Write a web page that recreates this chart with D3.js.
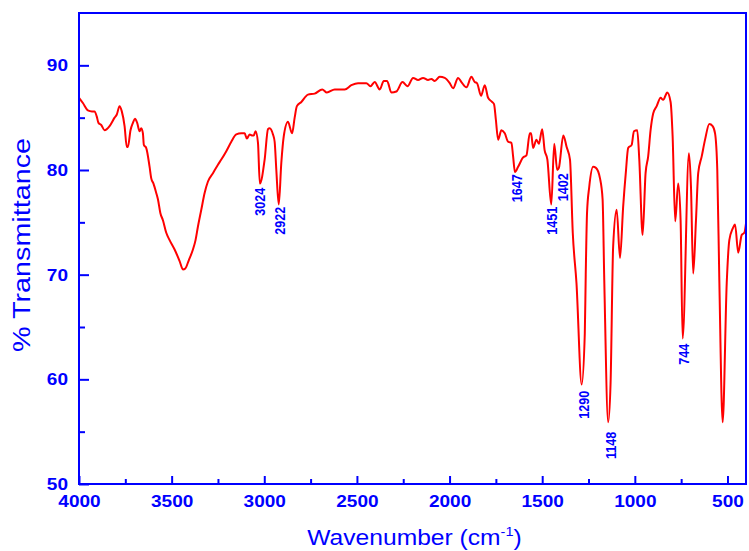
<!DOCTYPE html>
<html>
<head>
<meta charset="utf-8">
<script src="https://cdn.jsdelivr.net/npm/d3@7"></script>
<style>
  html, body { margin: 0; padding: 0; background: #fff; }
  svg { display: block; font-family: "Liberation Sans", Arial, sans-serif; }
</style>
</head>
<body>
<svg id="chart" width="749" height="551"></svg>
<script>
const wavenumbers = [4000,3979,3952,3930,3916,3904,3895,3880,3862,3835,3808,3796,3781,3769,3754,3742,3736,3722,3709,3698,3686,3673,3664,3655,3650,3637,3619,3610,3598,3583,3574,3561,3547,3529,3511,3484,3457,3439,3426,3407,3385,3371,3358,3340,3322,3304,3277,3250,3232,3205,3178,3151,3124,3106,3094,3079,3067,3057,3047,3034,3024,2998,2980,2971,2953,2944,2935,2922,2908,2895,2872,2850,2836,2824,2800,2764,2728,2687,2662,2620,2566,2530,2494,2449,2427,2404,2377,2355,2337,2314,2287,2254,2227,2197,2170,2143,2116,2098,2080,2053,2026,1999,1981,1954,1936,1909,1882,1864,1852,1830,1810,1792,1770,1760,1750,1738,1720,1702,1684,1666,1657,1647,1630,1603,1585,1567,1560,1549,1531,1518,1500,1487,1472,1451,1435,1419,1410,1386,1368,1350,1335,1315,1287,1270,1265,1258,1246,1225,1210,1188,1174,1165,1144,1131,1117,1098,1080,1063,1048,1036,1017,1005,987,976,958,942,928,915,901,882,861,847,825,807,796,782,766,753,742,708,697,685,670,658,639,621,598,580,567,555,544,526,504,490,472,459,442,423,409,400];
// % Transmittance at each wavenumber
const transmittance = [86.9,86.4,85.7,85.6,85.6,85.1,84.5,84.3,83.8,84.2,85.0,85.3,86.1,85.6,84.2,82.2,82.2,83.8,84.5,84.9,84.5,83.7,84.0,83.5,82.4,82.1,80.3,79.2,78.7,77.8,77.2,75.9,75.2,74.0,73.3,72.4,71.3,70.5,70.6,71.4,72.4,73.3,74.6,76.2,77.8,78.9,79.7,80.5,81.0,81.8,82.7,83.4,83.5,83.5,83.0,83.4,83.3,83.3,83.7,82.6,78.7,81.0,83.9,84.0,83.4,82.7,80.0,76.7,80.7,83.2,84.6,83.5,85.0,86.1,86.5,87.2,87.3,87.7,87.4,87.7,87.7,88.1,88.3,88.3,88.0,88.4,87.7,88.5,88.5,87.4,87.5,88.4,88.0,88.8,88.6,88.8,88.6,88.7,88.5,88.9,88.8,88.3,87.8,88.8,88.4,87.9,88.9,88.4,88.3,87.1,88.1,86.9,86.5,86.3,84.8,82.9,83.8,83.5,82.7,82.6,81.3,79.8,80.3,81.2,81.4,83.5,83.5,82.1,82.9,82.5,83.9,81.9,81.0,76.7,82.5,80.0,80.2,83.3,82.2,81.0,74.0,69.2,59.5,64.4,70.0,75.9,78.4,80.3,80.2,79.2,77.2,69.5,55.9,59.6,72.7,76.2,71.6,76.5,79.9,82.1,82.4,83.7,83.8,81.0,73.8,79.7,81.3,83.8,85.4,86.1,86.9,86.7,87.4,86.5,83.2,75.1,78.7,75.2,63.9,81.6,78.4,70.1,75.2,79.7,81.3,82.9,84.4,84.2,83.5,80.0,69.5,55.9,69.2,73.3,74.4,74.8,72.1,73.8,74.0,74.9];

// Peak annotations: text, wavenumber of label centre, transmittance at label top
const peakLabels = ["3024","2922","1647","1451","1402","1290","1148","744"];
const peakLabelWn = [3021,2913,1639,1446,1387,1273,1129,735];
const peakLabelT = [78.3,76.5,79.6,76.5,79.7,58.9,55.0,63.4];

const xMajorTicks = [4000,3500,3000,2500,2000,1500,1000,500];
const xMinorTicks = [3750,3250,2750,2250,1750,1250,750];
const yMajorTicks = [50,60,70,80,90];
const yMinorTicks = [55,65,75,85];

const blue = "#0000ff";
const red = "#ff0000";
const stretch = 1.12; // reference text is drawn horizontally widened

const margin = {top: 13, right: 3, bottom: 67, left: 79};
const W = 749, H = 551;
const iw = W - margin.left - margin.right;
const ih = H - margin.top - margin.bottom;

const svg = d3.select("#chart");
const g = svg.append("g").attr("transform", `translate(${margin.left},${margin.top})`);

const x = d3.scaleLinear().domain([4000, 400]).range([0, iw]);
const y = d3.scaleLinear().domain([50, 95]).range([ih, 0]);

// Spectrum line
const pts = wavenumbers.map((w, i) => [w, transmittance[i]]);
const line = d3.line().x(d => x(d[0])).y(d => y(d[1])).curve(d3.curveMonotoneX);
g.append("path").datum(pts)
  .attr("d", line)
  .attr("fill", "none")
  .attr("stroke", red)
  .attr("stroke-width", 2)
  .attr("stroke-linejoin", "round");

// Axes
function styleAxis(sel) {
  sel.select(".domain").remove();
  sel.selectAll(".tick line").attr("stroke", blue).attr("stroke-width", 2);
  sel.selectAll(".tick text").attr("fill", blue).attr("font-weight", "bold").attr("font-size", 17)
    .attr("transform", function() {
      const tx = +d3.select(this).attr("x") || 0;
      return `translate(${tx},0) scale(${stretch},1) translate(${-tx},0)`;
    });
}
const yAxis = g.append("g").call(d3.axisLeft(y).tickValues(yMajorTicks).tickSize(-10).tickPadding(11).tickFormat(d3.format("d")));
styleAxis(yAxis);
const yMinor = g.append("g").call(d3.axisLeft(y).tickValues(yMinorTicks).tickSize(-6).tickFormat(""));
styleAxis(yMinor);

const xAxis = g.append("g").attr("transform", `translate(0,${ih})`)
  .call(d3.axisBottom(x).tickValues(xMajorTicks).tickSize(-8).tickPadding(11).tickFormat(d3.format("d")));
styleAxis(xAxis);
const xMinor = g.append("g").attr("transform", `translate(0,${ih})`)
  .call(d3.axisBottom(x).tickValues(xMinorTicks).tickSize(-5).tickFormat(""));
styleAxis(xMinor);

// Frame
g.append("rect").attr("x", 0).attr("y", 0).attr("width", iw).attr("height", ih)
  .attr("fill", "none").attr("stroke", blue).attr("stroke-width", 2);

// Peak labels
g.selectAll(".peak").data(peakLabels).enter().append("text")
  .attr("class", "peak")
  .attr("transform", (d, i) => `translate(${x(peakLabelWn[i])},${y(peakLabelT[i])}) rotate(-90) scale(1,${stretch})`)
  .attr("text-anchor", "end")
  .attr("dy", "0.36em")
  .attr("fill", blue)
  .attr("font-weight", "bold")
  .attr("font-size", 12.6)
  .text(d => d);

// Axis titles
svg.append("text")
  .attr("transform", `translate(29.5,245) rotate(-90) scale(1.25,1)`)
  .attr("text-anchor", "middle")
  .attr("fill", blue)
  .attr("font-size", 23)
  .text("% Transmittance");

const xt = svg.append("text")
  .attr("transform", `translate(${margin.left + iw / 2 + 2},545) scale(${stretch},1)`)
  .attr("text-anchor", "middle")
  .attr("fill", blue)
  .attr("font-size", 22);
xt.append("tspan").text("Wavenumber (cm");
xt.append("tspan").attr("dy", -9).attr("font-size", 13).text("-1");
xt.append("tspan").attr("dy", 9).text(")");
</script>
</body>
</html>
